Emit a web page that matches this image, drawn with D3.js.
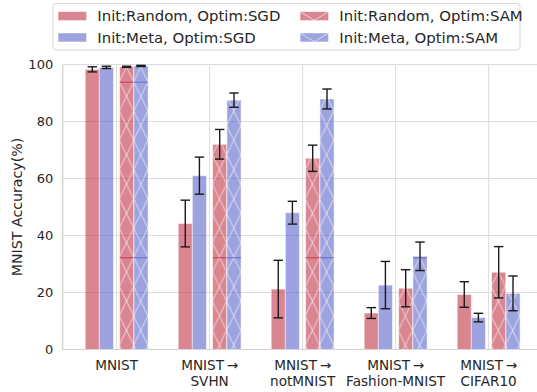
<!DOCTYPE html>
<html lang="en">
<head>
<meta charset="UTF-8">
<title>MNIST accuracy by init / optimizer</title>
<script src="https://cdn.jsdelivr.net/npm/d3@7"></script>
<style>
    body { margin: 0; background: #fff; }
    svg { display: block; font-family: "DejaVu Sans", sans-serif; }
    .tick-label { font-size: 13px; fill: #262626; }
    .grid line { stroke: #dcdcdc; stroke-width: 1; }
</style>
</head>
<body>
<svg id="chart" width="537" height="392"></svg>
<script>
    // data
    const categories = [["MNIST"], ["MNIST\u2009\u2192", "SVHN"], ["MNIST\u2009\u2192", "notMNIST"],
                        ["MNIST\u2009\u2192", "Fashion-MNIST"], ["MNIST\u2009\u2192", "CIFAR10"]];
    const seriesNames = ["Init:Random, Optim:SGD", "Init:Meta, Optim:SGD",
                         "Init:Random, Optim:SAM", "Init:Meta, Optim:SAM"];
    const randomSGD = [98.3, 44.2, 21.2, 12.8, 19.3];
    const randomSGDErr = [0.9, 8.2, 10.1, 1.9, 4.5];
    const metaSGD = [99.0, 61.0, 48.0, 22.6, 11.2];
    const metaSGDErr = [0.4, 6.5, 4.0, 8.3, 1.5];
    const randomSAM = [99.2, 72.0, 67.1, 21.5, 27.1];
    const randomSAMErr = [0.2, 5.2, 4.6, 6.5, 9.0];
    const metaSAM = [99.5, 87.5, 87.9, 32.7, 19.7];
    const metaSAMErr = [0.2, 2.5, 3.5, 5.0, 6.1];
    const yTicks = [0, 20, 40, 60, 80, 100];

    const series = [
        { name: seriesNames[0], values: randomSGD, err: randomSGDErr, color: "#c03548", offset: -0.262, hatch: false },
        { name: seriesNames[1], values: metaSGD, err: metaSGDErr, color: "#5c66c8", offset: -0.110, hatch: false },
        { name: seriesNames[2], values: randomSAM, err: randomSAMErr, color: "#c03548", offset: 0.108, hatch: true },
        { name: seriesNames[3], values: metaSAM, err: metaSAMErr, color: "#5c66c8", offset: 0.262, hatch: true }
    ];

    const svg = d3.select("#chart");
    const plotLeft = 62.7, plotBottom = 349.5, plotTop = 64.5;
    const barW = 0.152;

    const x = d3.scaleLinear().domain([-0.58, 4.58]).range([plotLeft, plotLeft + 5.16 * 93]);
    const y = d3.scaleLinear().domain([0, 100]).range([plotBottom, plotTop]);

    // hatch patterns ('x' hatch, with the odd horizontal seam the original has)
    const defs = svg.append("defs");
    const tileW = 14.3, tileH = 175.6, per = tileH / 6;
    series.filter(s => s.hatch).forEach((s, i) => {
        const p = defs.append("pattern")
            .attr("id", "hatch" + i)
            .attr("patternUnits", "userSpaceOnUse")
            .attr("x", 119.35).attr("y", 257.3)
            .attr("width", tileW).attr("height", tileH);
        for (let k = 0; k < 6; k++) {
            p.append("line").attr("x1", 0).attr("y1", k * per).attr("x2", tileW).attr("y2", (k + 1) * per)
                .attr("stroke", "#fff").attr("stroke-opacity", 0.55).attr("stroke-width", 1);
            p.append("line").attr("x1", tileW).attr("y1", k * per).attr("x2", 0).attr("y2", (k + 1) * per)
                .attr("stroke", "#fff").attr("stroke-opacity", 0.55).attr("stroke-width", 1);
        }
        p.append("line").attr("x1", 0).attr("y1", 0.5).attr("x2", tileW).attr("y2", 0.5)
            .attr("stroke", s.color).attr("stroke-opacity", 0.9).attr("stroke-width", 1);
        s.patternId = "hatch" + i;
    });

    // grid
    const grid = svg.append("g").attr("class", "grid");
    grid.selectAll("line.h").data(yTicks).enter().append("line").attr("class", "h")
        .attr("x1", plotLeft).attr("x2", 537).attr("y1", d => y(d)).attr("y2", d => y(d));
    grid.selectAll("line.v").data(d3.range(categories.length)).enter().append("line").attr("class", "v")
        .attr("x1", d => x(d)).attr("x2", d => x(d)).attr("y1", plotTop).attr("y2", plotBottom);

    // spines
    svg.append("line").attr("x1", plotLeft).attr("x2", plotLeft).attr("y1", plotTop).attr("y2", plotBottom)
        .attr("stroke", "#cfcfcf").attr("stroke-width", 1.2);
    svg.append("line").attr("x1", plotLeft).attr("x2", 537).attr("y1", plotBottom).attr("y2", plotBottom)
        .attr("stroke", "#cfcfcf").attr("stroke-width", 1.2);

    // bars
    series.forEach(s => {
        const g = svg.append("g");
        const data = s.values.map((v, i) => ({ i, v, e: s.err[i] }));
        g.selectAll("rect.bar").data(data).enter().append("rect").attr("class", "bar")
            .attr("x", d => x(d.i + s.offset - barW / 2))
            .attr("width", x(barW) - x(0))
            .attr("y", d => y(d.v))
            .attr("height", d => y(0) - y(d.v))
            .attr("fill", s.color).attr("fill-opacity", 0.6)
            .attr("stroke", "#fff").attr("stroke-opacity", 0.5).attr("stroke-width", 1);
        if (s.hatch) {
            g.selectAll("rect.hatch").data(data).enter().append("rect").attr("class", "hatch")
                .attr("x", d => x(d.i + s.offset - barW / 2))
                .attr("width", x(barW) - x(0))
                .attr("y", d => y(d.v))
                .attr("height", d => y(0) - y(d.v))
                .attr("fill", `url(#${s.patternId})`);
        }
    });

    // error bars
    series.forEach(s => {
        const g = svg.append("g").attr("stroke", "#1a1a1a").attr("stroke-width", 1.4);
        s.values.forEach((v, i) => {
            const cx = x(i + s.offset);
            const lo = y(v - s.err[i]), hi = y(v + s.err[i]);
            g.append("line").attr("x1", cx).attr("x2", cx).attr("y1", lo).attr("y2", hi);
            g.append("line").attr("x1", cx - 4.7).attr("x2", cx + 4.7).attr("y1", lo).attr("y2", lo);
            g.append("line").attr("x1", cx - 4.7).attr("x2", cx + 4.7).attr("y1", hi).attr("y2", hi);
        });
    });

    // y ticks
    svg.append("g").selectAll("text").data(yTicks).enter().append("text")
        .attr("class", "tick-label")
        .attr("x", plotLeft - 9.5).attr("y", d => y(d)).attr("dy", "0.36em")
        .attr("text-anchor", "end")
        .text(d => d);

    // x ticks (two lines)
    const xt = svg.append("g").selectAll("text").data(categories).enter().append("text")
        .attr("class", "tick-label").attr("text-anchor", "middle")
        .style("font-size", "13.6px")
        .attr("x", (d, i) => x(i)).attr("y", 370);
    xt.selectAll("tspan").data(d => d).enter().append("tspan")
        .attr("x", function () { return d3.select(this.parentNode).attr("x"); })
        .attr("dy", (d, j) => j === 0 ? 0 : 15.5)
        .text(d => d);

    // y label
    svg.append("text")
        .attr("transform", `translate(21.5,${(plotTop + plotBottom) / 2}) rotate(-90)`)
        .attr("text-anchor", "middle")
        .style("font-size", "14.2px").style("fill", "#262626")
        .text("MNIST Accuracy(%)");

    // legend
    const legend = svg.append("g");
    legend.append("rect").attr("x", 53).attr("y", 3.5).attr("width", 467).attr("height", 46.5)
        .attr("rx", 3).attr("fill", "#fff").attr("fill-opacity", 0.85)
        .attr("stroke", "#d6d6d6").attr("stroke-width", 1);
    const legendPos = [[58.3, 15.8], [58.3, 37.2], [300.3, 15.8], [300.3, 37.2]];
    series.forEach((s, i) => {
        const [lx, ly] = legendPos[i];
        const item = legend.append("g").attr("transform", `translate(${lx},${ly})`);
        item.append("rect").attr("x", 0).attr("y", -4).attr("width", 28).attr("height", 8.5)
            .attr("fill", s.color).attr("fill-opacity", 0.6);
        if (s.hatch) {
            item.append("path").attr("d", "M0,-4L14,4.5L28,-4")
                .attr("fill", "none").attr("stroke", "#fff").attr("stroke-opacity", 0.6).attr("stroke-width", 1);
        }
        item.append("text").attr("x", 39).attr("y", 0).attr("dy", "0.36em")
            .style("font-size", "14.9px").style("fill", "#262626")
            .text(s.name);
    });
</script>
</body>
</html>
